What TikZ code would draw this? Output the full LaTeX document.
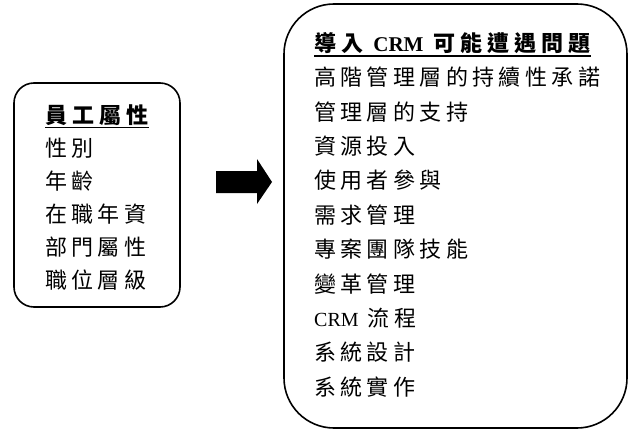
\documentclass[tikz,border=0pt]{standalone}
\usepackage{fontspec}
\setmainfont{Liberation Serif}
\newfontfamily\cjk[LetterSpace=20]{Noto Sans CJK TC}
\newfontfamily\cjktitle[LetterSpace=23]{Noto Sans CJK TC}
\newcommand\latinbig[1]{{\rmfamily\bfseries\fontsize{21}{24}\selectfont #1}}
\newcommand\latinreg[1]{{\rmfamily\fontsize{20}{24}\selectfont #1}}
\begin{document}
\begin{tikzpicture}[x=1pt,y=-1pt]
\tikzset{
  box/.style={draw,line width=1.6pt,rounded corners=#1,inner sep=0pt},
  txt/.style={anchor=west,inner sep=0pt,font=\cjk\fontsize{22}{24}\selectfont},
  ttl/.style={anchor=west,inner sep=0pt,font=\cjktitle\fontsize{22}{24}\selectfont\bfseries},
  uline/.style={line width=1.6pt},
  bigarrow/.style={fill=black}
}
\useasboundingbox (0,0) rectangle (629,431);
% left box
\node[box=20pt,minimum width=166pt,minimum height=224pt] (left) at (97,195) {};
\node[ttl] (l0) at (45,115) {員工屬性};
\draw[uline] ([yshift=-2pt]l0.south west) -- ([yshift=-2pt]l0.south east);
\foreach \t [count=\i] in {性別,年齡,在職年資,部門屬性,職位層級}
  \node[txt] (l\i) at (45,{115+33*\i}) {\t};
% arrow
\fill[bigarrow] (216,171) -- (257,171) -- (257,159) -- (272,182) -- (257,204) -- (257,193) -- (216,193) -- cycle;
% right box
\node[box=50pt,minimum width=343pt,minimum height=424pt] (right) at (455.5,216) {};
\node[ttl] (r0) at (314,43) {導入\ \latinbig{CRM}\ 可能遭遇問題};
\draw[uline] ([yshift=-2pt]r0.south west) -- ([yshift=-2pt]r0.south east);
\foreach \t [count=\i] in {高階管理層的持續性承諾,管理層的支持,資源投入,使用者參與,需求管理,專案團隊技能,變革管理,{\latinreg{CRM}\ 流程},系統設計,系統實作}
  \node[txt] (r\i) at (314,{43+34.4*\i}) {\t};
\end{tikzpicture}
\end{document}
